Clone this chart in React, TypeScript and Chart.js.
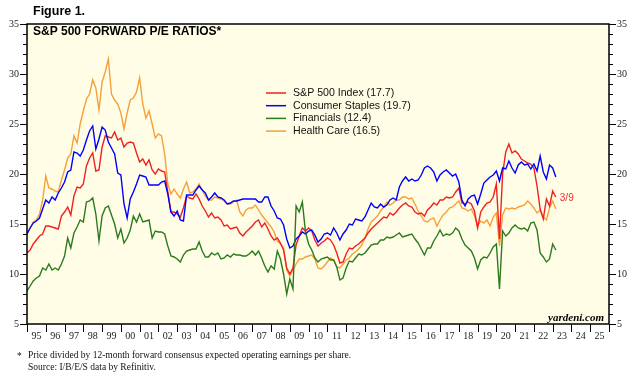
import React, { useEffect, useRef } from "react";
import { Chart, registerables } from "chart.js";

Chart.register(...registerables);

// Readings taken every two months, starting January 1995
const START_YEAR = 1995;
const SAMPLES_PER_YEAR = 6;

const SP500 = [
  12.1, 12.4, 13.0, 13.4, 13.8, 14.0, 14.8, 14.8, 14.7, 14.6,
  14.5, 15.8, 16.2, 16.7, 15.9, 17.8, 18.7, 18.6, 19.0, 20.8,
  21.6, 22.1, 20.3, 20.4, 22.7, 23.8, 23.7, 23.6, 24.2, 23.4,
  23.6, 22.7, 23.1, 23.2, 23.1, 22.1, 21.2, 21.5, 20.9, 21.4,
  20.4, 20.0, 20.5, 20.3, 20.2, 18.2, 16.2, 16.2, 16.0, 15.7,
  16.6, 17.8, 17.6, 17.5, 18.0, 17.5, 16.8, 16.3, 15.7, 16.1,
  15.6, 15.7, 15.4, 14.8, 14.9, 14.5, 14.6, 14.7, 14.1, 13.8,
  14.2, 14.5, 14.8, 15.2, 15.4, 14.7, 15.1, 14.5, 13.8, 13.4,
  13.6, 13.1, 12.4, 10.6, 10.0, 10.6, 12.9, 13.8, 14.6, 14.3,
  14.6, 14.3, 13.4, 12.8, 13.1, 13.3, 13.6, 13.4, 12.9, 12.1,
  11.1, 11.2, 12.0, 12.6, 12.5, 12.8, 13.0, 13.3, 13.6, 14.1,
  14.5, 14.8, 15.1, 15.4, 15.7, 15.6, 16.1, 15.9, 16.2, 16.6,
  16.9, 17.1, 16.8, 16.7, 16.2, 16.0, 16.1, 15.8, 16.4, 16.7,
  17.1, 16.9, 17.4, 17.4, 17.7, 17.6, 17.7, 18.2, 18.6, 17.1,
  17.0, 17.2, 17.0, 16.3, 14.6, 16.2, 16.7, 17.1, 17.2, 17.7,
  19.0, 13.5, 20.0, 22.2, 23.0, 22.1, 22.3, 22.0, 21.5, 21.3,
  21.1, 21.0, 20.6, 18.8, 16.5, 15.5, 17.5, 16.8, 18.3, 17.7,
];

const STAPLES = [
  14.0, 14.6, 15.1, 15.3, 15.6, 16.5, 17.4, 17.1, 17.7, 17.4,
  18.1, 18.6, 19.2, 20.2, 20.4, 22.2, 22.1, 21.8, 22.4, 23.4,
  24.3, 24.8, 22.5, 23.5, 24.7, 24.4, 23.2, 22.6, 22.0, 20.1,
  19.9, 17.0, 15.6, 17.5, 18.2, 19.0, 19.9, 19.8, 19.7, 18.9,
  18.9, 18.9, 18.9, 19.2, 19.3, 18.0, 16.2, 15.8, 16.3, 15.4,
  15.3, 17.9, 17.9, 17.9, 18.4, 18.8, 18.4, 18.1, 17.4, 17.7,
  18.1, 17.7, 17.6, 17.4, 17.0, 17.1, 17.3, 17.3, 17.4, 17.5,
  17.5, 17.5, 17.5, 17.5, 17.2, 17.2, 17.7, 17.7, 16.8, 16.3,
  15.6, 15.5, 14.9, 13.5, 12.6, 12.8, 13.5, 13.8, 14.2, 14.0,
  14.3, 14.4, 13.9, 13.2, 13.5, 14.0, 14.1, 13.9, 14.6, 14.1,
  13.4, 14.0, 14.4, 15.0, 14.9, 15.5, 15.4, 15.3, 15.7, 16.4,
  17.1, 16.7, 16.6, 17.0, 16.7, 16.9, 17.4, 17.6, 17.4, 18.7,
  19.3, 19.7, 19.3, 19.5, 19.3, 19.4, 19.9, 20.6, 20.8, 20.6,
  20.2, 19.3, 19.9, 20.2, 20.4, 20.1, 19.8, 20.0, 19.2, 17.4,
  16.8, 17.5, 17.8, 17.9, 17.0, 18.0, 19.1, 19.4, 19.7, 19.9,
  20.3, 19.3, 20.6, 20.5, 21.3, 20.6, 20.1, 20.9, 21.2, 20.9,
  21.0, 20.5, 21.0, 20.3, 21.8, 20.2, 19.5, 20.9, 20.6, 19.7,
];

const FINANCIALS = [
  8.3, 8.8, 9.3, 9.6, 9.8, 10.6, 10.4, 11.0, 10.4, 10.6,
  10.4, 11.0, 11.8, 13.6, 12.6, 14.1, 14.7, 15.4, 15.2, 17.2,
  17.3, 17.6, 16.0, 13.3, 15.8, 16.6, 16.8, 15.9, 15.0, 13.6,
  14.5, 13.1, 13.6, 14.4, 15.8, 15.2, 16.0, 15.2, 15.3, 15.4,
  13.6, 14.3, 14.2, 14.2, 14.0, 12.8, 11.8, 11.7, 11.5, 11.2,
  11.9, 12.3, 12.4, 12.5, 12.5, 13.2, 12.3, 11.7, 11.7, 12.1,
  11.9, 12.1, 11.5, 11.6, 11.9, 11.7, 12.0, 11.9, 11.9, 11.8,
  11.8, 12.0, 12.3, 11.9, 12.3, 11.6, 10.8, 10.2, 10.8, 10.5,
  12.3, 11.5, 10.0, 8.0, 9.5, 8.5, 16.8, 16.2, 17.2, 14.2,
  13.0, 12.4, 11.6, 11.2, 11.5, 11.6, 11.7, 11.4, 11.4, 10.7,
  9.4, 9.6, 10.6, 11.3, 11.2, 11.6, 12.0, 11.9, 12.1, 12.5,
  12.9, 13.0, 13.0, 13.4, 13.4, 13.7, 13.6, 13.7, 13.9, 14.1,
  13.7, 13.8, 13.9, 14.0, 13.5, 13.1, 12.5, 11.9, 12.6, 12.6,
  13.3, 13.8, 14.4, 13.8, 14.0, 13.9, 14.1, 14.6, 14.3, 13.5,
  12.9, 12.6, 12.3, 11.6, 10.5, 11.4, 11.7, 11.6, 12.1, 12.7,
  13.0, 8.5, 14.3, 13.8, 14.1, 14.6, 14.9, 14.6, 14.5, 14.6,
  14.3, 15.1, 15.2, 14.4, 12.1, 11.7, 11.2, 11.5, 13.0, 12.4,
];

const HEALTH_CARE = [
  14.0, 14.6, 15.2, 15.4, 16.0, 17.4, 19.8, 18.6, 18.5, 18.3,
  18.2, 19.4, 20.4, 21.6, 22.0, 23.8, 23.1, 25.0, 26.3, 27.5,
  28.0, 29.4, 28.6, 26.4, 29.2, 30.2, 31.5, 28.0, 27.4, 27.0,
  26.1, 24.5, 26.1, 27.4, 27.6, 28.2, 29.6, 27.0, 25.6, 26.3,
  25.0, 23.6, 24.0, 23.8, 22.0, 19.0, 18.0, 18.5, 18.0, 17.6,
  18.5, 19.2, 18.1, 18.2, 18.5, 19.0, 18.4, 17.8, 17.4, 17.4,
  17.7, 17.6, 17.5, 17.3, 17.0, 17.0, 17.2, 17.4, 16.2, 15.8,
  16.4, 16.6, 16.6, 16.9, 16.4, 15.9, 15.5, 15.1, 14.7, 14.2,
  13.3, 13.0, 12.6, 10.4, 9.8, 10.4, 11.0, 11.5, 11.5, 11.7,
  11.8, 11.9, 11.5, 10.6, 10.5, 10.8, 11.2, 11.6, 11.4, 10.7,
  10.6, 11.0, 11.4, 11.6, 12.0, 12.2, 12.5, 12.9, 13.6, 14.5,
  15.2, 15.5, 15.8, 16.3, 16.7, 17.2, 16.9, 17.1, 17.4, 17.4,
  17.7, 17.7, 17.5, 17.6, 17.0, 16.3, 15.8, 15.3, 15.2, 15.5,
  15.6, 14.8, 15.4, 15.9, 16.2, 16.6, 16.7, 17.0, 17.3, 16.6,
  16.5, 16.3, 16.5, 15.8, 14.8, 15.3, 15.1, 15.4, 14.8, 15.7,
  16.1, 12.8, 15.9, 16.6, 16.5, 16.6, 16.5, 16.7, 16.8, 16.9,
  17.3, 17.0, 16.6, 16.1, 16.4, 15.7, 15.4, 16.6, 17.3, 16.5,
];

const SERIES_NAMES = [
  "S&P 500 Index (17.7)",
  "Consumer Staples (19.7)",
  "Financials (12.4)",
  "Health Care (16.5)",
];
const SERIES_COLORS = ["#f02020", "#0000ff", "#2a7a1e", "#f5a03a"];

const YEAR_LABELS = [
  "95", "96", "97", "98", "99", "00", "01", "02", "03", "04", "05",
  "06", "07", "08", "09", "10", "11", "12", "13", "14", "15", "16",
  "17", "18", "19", "20", "21", "22", "23", "24", "25",
];
const Y_LABELS = [5, 10, 15, 20, 25, 30, 35];
const X_MIN = 1995;
const X_MAX = 2026;
const Y_MIN = 5;
const Y_MAX = 35;
const LAST_DATE = "3/9";

const TITLE_FIG = "Figure 1.";
const TITLE = "S&P 500 FORWARD P/E RATIOS*";
const FOOT1 = "Price divided by 12-month forward consensus expected operating earnings per share.";
const FOOT2 = "Source: I/B/E/S data by Refinitiv.";
const CREDIT = "yardeni.com";

const DATES = SP500.map((_, i) => START_YEAR + i / SAMPLES_PER_YEAR);

const SERIF = '"Liberation Serif", "Times New Roman", serif';
const SANS = '"Liberation Sans", Arial, sans-serif';

const decoPlugin = {
  id: "deco",
  beforeDraw(chart: any) {
    const { ctx, chartArea: a, width, height } = chart;
    ctx.save();
    ctx.fillStyle = "#ffffff";
    ctx.fillRect(0, 0, width, height);
    ctx.fillStyle = "#fffde6";
    ctx.fillRect(a.left, a.top, a.right - a.left, a.bottom - a.top);
    ctx.restore();
  },
  afterDraw(chart: any) {
    const { ctx, chartArea: a } = chart;
    const xs = chart.scales.x;
    const ys = chart.scales.y;
    const line = (x1: number, y1: number, x2: number, y2: number) => {
      ctx.beginPath();
      ctx.moveTo(x1, y1);
      ctx.lineTo(x2, y2);
      ctx.stroke();
    };
    ctx.save();
    ctx.strokeStyle = "#000";
    ctx.lineWidth = 1;
    // y ticks
    for (let v = Y_MIN; v <= Y_MAX; v++) {
      const py = Math.round(ys.getPixelForValue(v)) + 0.5;
      const len = v % 5 === 0 ? 7 : 4;
      line(a.left - len, py, a.left, py);
      line(a.right, py, a.right + len, py);
    }
    // x ticks
    for (let yr = X_MIN; yr <= X_MAX; yr++) {
      const px = Math.round(xs.getPixelForValue(yr)) + 0.5;
      line(px, a.bottom, px, a.bottom + 8);
    }
    // border
    ctx.lineWidth = 1.5;
    ctx.strokeRect(a.left, a.top, a.right - a.left, a.bottom - a.top);

    // y labels
    ctx.fillStyle = "#222";
    ctx.font = `10px ${SERIF}`;
    ctx.textBaseline = "middle";
    Y_LABELS.forEach((v) => {
      const py = ys.getPixelForValue(v);
      ctx.textAlign = "right";
      ctx.fillText(String(v), a.left - 8, py);
      ctx.textAlign = "left";
      ctx.fillText(String(v), a.right + 8, py);
    });
    // x labels
    ctx.textAlign = "center";
    YEAR_LABELS.forEach((lab, k) => {
      const px = xs.getPixelForValue(X_MIN + k + 0.5);
      ctx.fillText(lab, px, a.bottom + 12);
    });

    // titles
    ctx.fillStyle = "#000";
    ctx.textAlign = "left";
    ctx.font = `bold 12.5px ${SANS}`;
    ctx.fillText(TITLE_FIG, 33, 12);
    ctx.font = `bold 12px ${SANS}`;
    ctx.fillText(TITLE, 33, 32);

    // legend
    ctx.font = `10.6px ${SANS}`;
    SERIES_NAMES.forEach((name, i) => {
      const yy = 93 + i * 12.7;
      ctx.strokeStyle = SERIES_COLORS[i];
      ctx.lineWidth = 1.5;
      line(266, yy, 286, yy);
      ctx.fillStyle = "#111";
      ctx.fillText(name, 293, yy);
    });

    // last date label
    const lastIdx = SP500.length - 1;
    ctx.fillStyle = "#f03030";
    ctx.font = `10px ${SANS}`;
    ctx.fillText(LAST_DATE, xs.getPixelForValue(DATES[lastIdx]) + 4, 198);

    // credit
    ctx.fillStyle = "#000";
    ctx.textAlign = "right";
    ctx.font = `italic bold 11px ${SERIF}`;
    ctx.fillText(CREDIT, a.right - 5, a.bottom - 6);

    // footnotes
    ctx.textAlign = "left";
    ctx.fillStyle = "#111";
    ctx.font = `9.5px ${SERIF}`;
    ctx.fillText("*", 17, 356);
    ctx.fillText(FOOT1, 28, 355);
    ctx.fillText(FOOT2, 28, 367);
    ctx.restore();
  },
};

export default function App() {
  const ref = useRef<HTMLCanvasElement>(null);
  useEffect(() => {
    if (!ref.current) return;
    const mk = (vals: number[]) => vals.map((v, i) => ({ x: DATES[i], y: v }));
    const allSeries = [SP500, STAPLES, FINANCIALS, HEALTH_CARE];
    const drawOrder = [2, 1, 0, 3]; // lower draws on top
    const chart = new Chart(ref.current, {
      type: "line",
      data: {
        datasets: allSeries.map((vals, i) => ({
          label: SERIES_NAMES[i],
          data: mk(vals),
          borderColor: SERIES_COLORS[i],
          backgroundColor: SERIES_COLORS[i],
          borderWidth: 1.4,
          pointRadius: 0,
          tension: 0,
          order: drawOrder[i],
        })),
      },
      options: {
        animation: false,
        responsive: false,
        devicePixelRatio: 1,
        layout: { padding: { left: 27, right: 31, top: 24, bottom: 49 } },
        scales: {
          x: { type: "linear", min: X_MIN, max: X_MAX, display: false },
          y: { type: "linear", min: Y_MIN, max: Y_MAX, display: false },
        },
        plugins: {
          legend: { display: false },
          tooltip: { enabled: false },
        },
      },
      plugins: [decoPlugin],
    });
    return () => chart.destroy();
  }, []);
  return (
    <div style={{ position: "fixed", left: 0, top: 0, width: 640, height: 373, background: "#fff" }}>
      <canvas ref={ref} width={640} height={373} style={{ display: "block" }} />
    </div>
  );
}
